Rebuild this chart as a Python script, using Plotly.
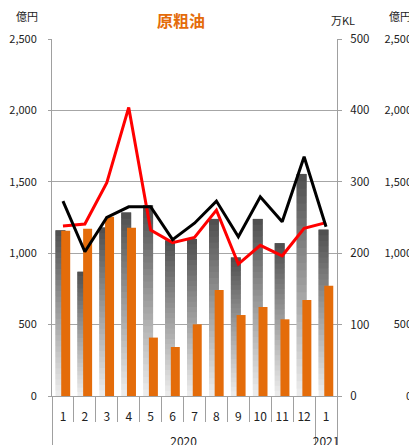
import plotly.graph_objects as go

years = ["2020"] * 12 + ["2021"]
months = ["1", "2", "3", "4", "5", "6", "7", "8", "9", "10", "11", "12", "1"]

# 数量 (万KL) - gray bars, black line
vol_bar = [232, 174, 236, 257, 267, 218, 220, 248, 194, 248, 214, 311, 233]
vol_line = [273, 202, 250, 265, 265, 219, 242, 273, 223, 279, 244, 335, 237]
# 金額 (億円) - orange bars, red line
amt_bar = [1158, 1172, 1256, 1179, 409, 343, 502, 742, 567, 623, 537, 672, 772]
amt_line = [1190, 1204, 1494, 2021, 1162, 1074, 1111, 1302, 924, 1055, 982, 1174, 1214]

FONT = "Noto Sans CJK JP, Noto Sans, sans-serif"
# extra blank line under each month pushes the year row down
x = [years, [m + "<br>\u00a0" for m in months]]

fig = go.Figure()

# gradient gray bars: each bar split into slices, dark on top, light at bottom
N = 30
light = (238, 238, 238)
dark = (78, 78, 78)
for k in range(N):
    t = (k + 0.5) / N
    c = tuple(int(light[i] + (dark[i] - light[i]) * t) for i in range(3))
    h = 1 if k == N - 1 else 2  # overlap slices so no seams show
    fig.add_trace(go.Bar(
        x=x, y=[v * h / N for v in vol_bar], base=[v * k / N for v in vol_bar],
        marker=dict(color="rgb(%d,%d,%d)" % c, line=dict(width=0)),
        width=0.45, offset=-0.34, yaxis="y", showlegend=False, hoverinfo="skip"))

fig.add_trace(go.Bar(
    x=x, y=amt_bar, marker=dict(color="#E46C0A", line=dict(width=0)),
    width=0.41, offset=-0.08, yaxis="y2", showlegend=False))

fig.add_trace(go.Scatter(
    x=x, y=amt_line, mode="lines", line=dict(color="#FF0000", width=3),
    yaxis="y3", showlegend=False))
fig.add_trace(go.Scatter(
    x=x, y=vol_line, mode="lines", line=dict(color="#000000", width=3),
    yaxis="y4", showlegend=False))


def label(text, px, py, size=11, color="#222222"):
    return dict(text=text, x=(px - 52) / W, y=(396 - py) / 357,
                xref="paper", yref="paper", showarrow=False,
                xanchor="center", yanchor="middle",
                font=dict(size=size, color=color))


# page body has an 8px margin, so the figure is sized to end at the window edge
W = 365.0
fig.update_layout(
    width=409, height=437,
    margin=dict(l=44, r=0, t=31, b=49),
    paper_bgcolor="white", plot_bgcolor="white",
    barmode="overlay",
    font=dict(family=FONT, size=11, color="#222222"),
    xaxis=dict(type="multicategory", domain=[0, 285 / W], anchor="y",
               showline=True, linecolor="#A0A0A0", linewidth=1,
               ticks="outside", tickson="boundaries", ticklen=25,
               tickcolor="#A0A0A0", showdividers=True,
               dividercolor="#A0A0A0", dividerwidth=1,
               tickangle=0, automargin=False, ticklabelstandoff=10,
               tickfont=dict(size=12)),
    yaxis=dict(range=[0, 500], dtick=100, side="right", anchor="x",
               showgrid=True, gridcolor="#A6A6A6", gridwidth=1,
               showline=True, linecolor="#A0A0A0", ticks="outside",
               ticklen=4, tickcolor="#A0A0A0", zeroline=False,
               ticklabelstandoff=6, automargin=False,
               tickfont=dict(size=11.5)),
    yaxis2=dict(range=[0, 2500], dtick=500, side="left", overlaying="y",
                anchor="x", showgrid=False, showline=True,
                linecolor="#A0A0A0", ticks="outside", ticklen=3,
                tickcolor="#A0A0A0", tickformat=",", zeroline=False,
                ticklabelstandoff=9, automargin=False,
                tickfont=dict(size=11)),
    yaxis3=dict(range=[0, 2500], dtick=500, side="left", overlaying="y",
                anchor="free", position=1, showgrid=False, showline=False,
                ticks="", tickformat=",", zeroline=False,
                ticklabelstandoff=5, automargin=False,
                tickfont=dict(size=11)),
    yaxis4=dict(range=[0, 500], overlaying="y", visible=False),
    annotations=[
        label("<b>原粗油</b>", 181, 20, size=16, color="#E46C0A"),
        label("億円", 27, 16),
        label("万KL", 343, 20),
        label("億円", 400, 16),
    ],
)

fig.write_html("out.html")
